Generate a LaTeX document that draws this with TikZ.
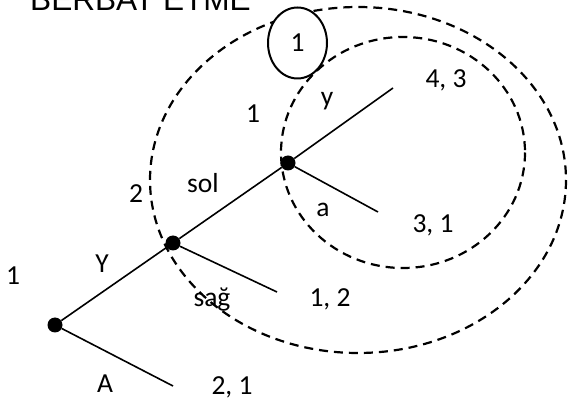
\documentclass[tikz,border=0pt]{standalone}
\usepackage{fontspec}
\setmainfont{Carlito}
\newfontfamily\arialf{Liberation Sans}
\usetikzlibrary{shapes.geometric}
\begin{document}
\begin{tikzpicture}[x=1pt,y=-1pt,
  lbl/.style={font=\fontsize{27.5}{32}\selectfont, inner sep=0pt, anchor=base},
  dashell/.style={draw, dash pattern=on 9pt off 6pt, line width=2.2pt},
  edge/.style={line width=1.6pt},
  dot/.style={circle, fill, inner sep=0pt, minimum size=15pt}]
\useasboundingbox (0,0) rectangle (568,403);
% dashed ellipses
\draw[dashell] (358,180) ellipse [x radius=208, y radius=173];
\draw[dashell] (403,152.5) ellipse [x radius=122, y radius=115.5];
% tree
\node[dot] (r) at (55,325) {};
\node[dot] (n2) at (173,243) {};
\node[dot] (n3) at (288,163) {};
\coordinate (ey) at (393,88);
\coordinate (ea) at (378,212);
\coordinate (es) at (277,292);
\coordinate (eA) at (173,386);
\draw[edge] (r) -- (n2);
\draw[edge] (n2) -- (n3);
\draw[edge] (n3) -- (ey);
\draw[edge] (n3) -- (ea);
\draw[edge] (n2) -- (es);
\draw[edge] (r) -- (eA);
% circled info set
\node[ellipse, draw, line width=2pt, fill=white, minimum width=59pt, minimum height=71pt,
  inner sep=0pt, font=\fontsize{27.5}{32}\selectfont] (c1) at (297.5,43) {1};
% labels
\node[anchor=base, inner sep=0pt, font=\arialf\fontsize{31.6}{36}\selectfont] (title) at (140.5,11) {BERBAT ETME};
\node[lbl] (p1) at (13,285) {1};
\node[lbl] (lY) at (102,273) {Y};
\node[lbl] (lA) at (105,392) {A};
\node[lbl] (o21) at (232,395) {2, 1};
\node[lbl] (p2) at (136,203) {2};
\node[lbl] (lsol) at (203,193) {sol};
\node[lbl] (lsag) at (212,307) {sağ};
\node[lbl] (o12) at (330,307) {1, 2};
\node[lbl] (p1b) at (253,123) {1};
\node[lbl] (ly) at (327,106) {y};
\node[lbl] (la) at (323,217) {a};
\node[lbl] (o43) at (446,88) {4, 3};
\node[lbl] (o31) at (433,233) {3, 1};
\end{tikzpicture}
\end{document}
